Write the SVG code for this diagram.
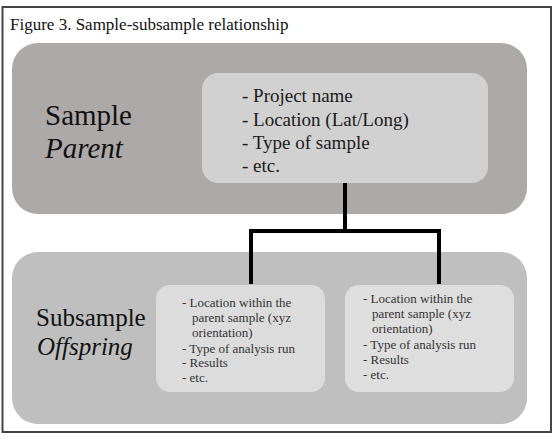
<svg xmlns="http://www.w3.org/2000/svg" width="558" height="440" viewBox="0 0 558 440">
<style>
.t{font-family:"Liberation Serif","Times New Roman",serif;fill:#111}
.big{font-size:29px}
.mid{font-size:19px;fill:#1a1a1a}
.sm{font-size:13px;fill:#333}
.conn{fill:none;stroke:#000;stroke-width:4}
</style>
<rect x="0" y="0" width="558" height="440" fill="#fff"/>
<rect x="2.5" y="7" width="548.5" height="425" fill="#fff" stroke="#444" stroke-width="2"/>
<text class="t" x="10" y="30" font-size="17">Figure 3. Sample-subsample relationship</text>
<g id="sample">
<rect x="12" y="43" width="515" height="171" rx="26" fill="#ada9a9"/>
<text class="t big" x="45" y="125">Sample</text>
<text class="t big" x="45" y="158" font-style="italic">Parent</text>
</g>
<g id="sample-details">
<rect x="202" y="73" width="286" height="110" rx="16" fill="#d2d1d1"/>
<text class="t mid" x="242" y="102">- Project name</text>
<text class="t mid" x="242" y="126">- Location (Lat/Long)</text>
<text class="t mid" x="242" y="149">- Type of sample</text>
<text class="t mid" x="242" y="172">- etc.</text>
</g>
<g id="subsample">
<rect x="12" y="252" width="515" height="172" rx="26" fill="#bfbfbf"/>
<text class="t" x="36" y="326" font-size="25">Subsample</text>
<text class="t" x="37" y="355" font-size="25" font-style="italic">Offspring</text>
</g>
<g id="sub1">
<rect x="156" y="285" width="169" height="107" rx="14" fill="#dcdcdc"/>
<text class="t sm" x="182" y="307">- Location within the</text>
<text class="t sm" x="192" y="322">parent sample (xyz</text>
<text class="t sm" x="192" y="337">orientation)</text>
<text class="t sm" x="182" y="353" font-size="14" textLength="113" lengthAdjust="spacingAndGlyphs">- Type of analysis run</text>
<text class="t sm" x="182" y="367">- Results</text>
<text class="t sm" x="182" y="382">- etc.</text>
</g>
<g id="sub2">
<rect x="345" y="285" width="169" height="107" rx="14" fill="#dedede"/>
<text class="t sm" x="363" y="303">- Location within the</text>
<text class="t sm" x="372" y="318">parent sample (xyz</text>
<text class="t sm" x="372" y="333">orientation)</text>
<text class="t sm" x="363" y="349" font-size="14" textLength="113" lengthAdjust="spacingAndGlyphs">- Type of analysis run</text>
<text class="t sm" x="363" y="364">- Results</text>
<text class="t sm" x="363" y="379">- etc.</text>
</g>
<g id="connectors">
<path class="conn" d="M345 183 V231 M251 231 H439 M251 229 V284 M439 229 V284"/>
</g>
</svg>
